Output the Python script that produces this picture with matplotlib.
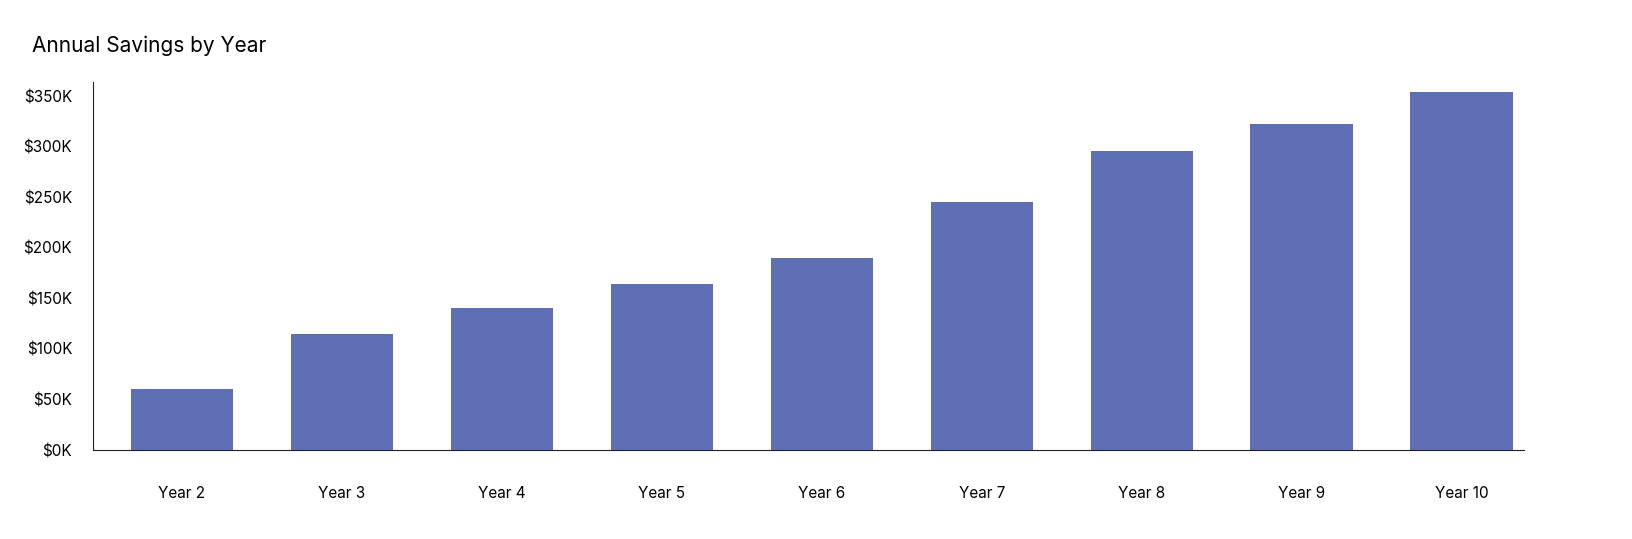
import matplotlib
matplotlib.use("Agg")
import matplotlib.pyplot as plt

categories = ["Year 2","Year 3","Year 4","Year 5","Year 6","Year 7","Year 8","Year 9","Year 10"]
savings = [60000,115000,140000,164000,190000,245000,296000,322000,354000]
yticks = [0,50000,100000,150000,200000,250000,300000,350000]
ylabels = ["$0K","$50K","$100K","$150K","$200K","$250K","$300K","$350K"]

plt.rcParams['font.family'] = ['Inter','DejaVu Sans']
fig = plt.figure(figsize=(16.32,5.39), dpi=100)
ax = fig.add_axes([93/1632, 1-450/539, (1524-93)/1632, (450-82)/539])
x = list(range(len(categories)))
ax.bar(x, savings, width=0.64, color="#5f6fb3")
ax.set_xlim(-0.556, len(categories)-1+0.39)
ax.set_ylim(0, 364000)
ax.set_xticks(x)
ax.set_xticklabels(categories, fontsize=11)
ax.set_yticks(yticks)
ax.set_yticklabels(ylabels, fontsize=11)
ax.tick_params(length=0)
ax.tick_params(axis='x', pad=26)
ax.tick_params(axis='y', pad=15)
for s in ["top","right"]:
    ax.spines[s].set_visible(False)
ax.spines["left"].set_color("#222222")
ax.spines["bottom"].set_color("#222222")
fig.text(32/1632, 1-46/539, "Annual Savings by Year", fontsize=15, va="center")
fig.savefig("out.png", dpi=100)
